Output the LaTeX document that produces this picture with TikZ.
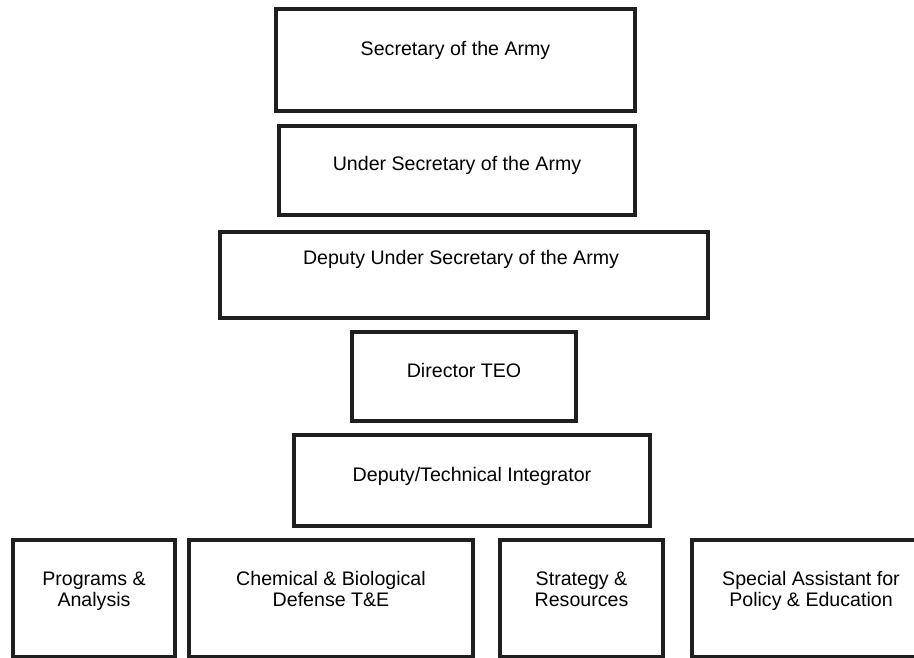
\documentclass[tikz,border=0pt]{standalone}
\usepackage{fontspec}
\setmainfont{Liberation Sans}

\begin{document}
\begin{tikzpicture}[x=1pt,y=-1pt,
    unit/.style={draw=black!88, line width=4pt, inner sep=0pt},
    lbl/.style={font=\fontsize{19.6}{21}\selectfont, align=center, anchor=base, inner sep=0pt}]
        \useasboundingbox (0,0) rectangle (914,658);
        \clip (0,0) rectangle (914,658);
        % top of the chain
        \node[unit, minimum width=359pt, minimum height=102pt] (sec)  at (455.5,60)  {};
        \node[unit, minimum width=356pt, minimum height=89pt]  (usec) at (457,170.5) {};
        \node[unit, minimum width=488pt, minimum height=86pt]  (dus)  at (464,275)   {};
        \node[unit, minimum width=224pt, minimum height=89pt]  (teo)  at (464,376.5) {};
        \node[unit, minimum width=356pt, minimum height=91pt]  (dti)  at (472,480.5) {};
        % bottom row
        \node[unit, minimum width=162pt, minimum height=117pt] (pa)   at (94,598.5)  {};
        \node[unit, minimum width=284pt, minimum height=117pt] (cbd)  at (331,598.5) {};
        \node[unit, minimum width=163pt, minimum height=117pt] (sr)   at (581.5,598.5) {};
        \node[unit, minimum width=238pt, minimum height=117pt] (spe)  at (811,598.5) {};
        % labels
        \node[lbl] (secT)  at ([yshift=-49pt]sec.north)  {Secretary of the Army};
        \node[lbl] (usecT) at ([yshift=-47pt]usec.north) {Under Secretary of the Army};
        \node[lbl] (dusT)  at ([xshift=-3pt,yshift=-35pt]dus.north) {Deputy Under Secretary of the Army};
        \node[lbl] (teoT)  at ([yshift=-47pt]teo.north)  {Director TEO};
        \node[lbl] (dtiT)  at ([yshift=-48pt]dti.north)  {Deputy/Technical Integrator};
        % two-line labels sit on their last line
        \node[lbl] (paT)   at ([yshift=-68pt]pa.north)   {Programs \&\\Analysis};
        \node[lbl] (cbdT)  at ([yshift=-68pt]cbd.north)  {Chemical \& Biological\\Defense T\&E};
        \node[lbl] (srT)   at ([yshift=-68pt]sr.north)   {Strategy \&\\Resources};
        \node[lbl] (speT)  at ([yshift=-68pt]spe.north)  {Special Assistant for\\Policy \& Education};
\end{tikzpicture}
\end{document}
